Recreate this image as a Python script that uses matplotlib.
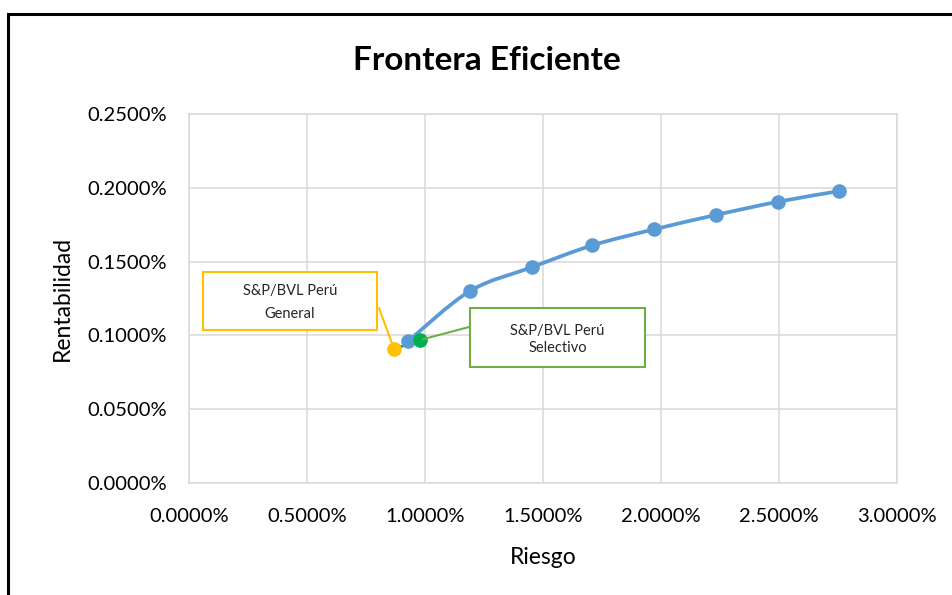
import matplotlib
matplotlib.use("Agg")
import matplotlib.pyplot as plt
from matplotlib.path import Path
from matplotlib.patches import PathPatch, Rectangle
from matplotlib.ticker import FuncFormatter, MultipleLocator

plt.rcParams['font.family'] = ['Lato', 'DejaVu Sans']

# frontera eficiente (riesgo, rentabilidad) en fracciones
riesgo = [0.00929, 0.01191, 0.01455, 0.01709, 0.01972, 0.02233, 0.02497, 0.02753]
rentabilidad = [0.000962, 0.001301, 0.001463, 0.001610, 0.001719, 0.001816, 0.001906, 0.001977]

# indices
general_riesgo, general_rent = 0.00869, 0.000908
selectivo_riesgo, selectivo_rent = 0.00979, 0.000969

azul = '#5B9BD5'
amarillo = '#FFC000'
verde = '#00B050'
verde_caja = '#70AD47'
gris = '#D9D9D9'

W, H = 952, 595


def fx(px):
    return px / W


def fy(py):
    return 1 - py / H


def curva_suave(xs, ys):
    # curva tipo excel: bezier cubica por cada tramo
    pts = list(zip(xs, ys))
    n = len(pts)
    verts = [pts[0]]
    codes = [Path.MOVETO]
    for i in range(n - 1):
        p0 = pts[i - 1] if i > 0 else pts[i]
        p1 = pts[i]
        p2 = pts[i + 1]
        p3 = pts[i + 2] if i + 2 < n else pts[i + 1]
        c1 = (p1[0] + (p2[0] - p0[0]) / 6, p1[1] + (p2[1] - p0[1]) / 6)
        c2 = (p2[0] - (p3[0] - p1[0]) / 6, p2[1] - (p3[1] - p1[1]) / 6)
        verts += [c1, c2, p2]
        codes += [Path.CURVE4] * 3
    return Path(verts, codes)


def caja(x0, y0, x1, y1, color, lineas, ys, punto, desde, shrink):
    # recuadro de etiqueta con su linea guia (coordenadas en pixeles)
    fig.patches.append(Rectangle((fx(x0), fy(y1)), fx(x1) - fx(x0), fy(y0) - fy(y1),
                                 transform=fig.transFigure, fc='white', ec=color,
                                 lw=1.5, zorder=7))
    for t, yy in zip(lineas, ys):
        fig.text(fx((x0 + x1) / 2), fy(yy), t, ha='center', va='center',
                 fontsize=10.5, color='#262626', zorder=8)
    ax.annotate('', xy=punto, xytext=(fx(desde[0]), fy(desde[1])),
                textcoords='figure fraction', zorder=6,
                arrowprops=dict(arrowstyle='-', color=color, lw=1.5,
                                shrinkA=0, shrinkB=shrink))


fig = plt.figure(figsize=(9.52, 5.95), dpi=100)
ax = fig.add_axes([fx(189), fy(483), fx(897) - fx(189), fy(114) - fy(483)])

ax.set_xlim(0, 0.03)
ax.set_ylim(0, 0.0025)
ax.xaxis.set_major_locator(MultipleLocator(0.005))
ax.yaxis.set_major_locator(MultipleLocator(0.0005))
fmt = FuncFormatter(lambda v, p: f"{v * 100:.4f}%")
ax.xaxis.set_major_formatter(fmt)
ax.yaxis.set_major_formatter(fmt)
ax.grid(True, color=gris, lw=1.1)
ax.set_axisbelow(True)
for s in ax.spines.values():
    s.set_color(gris)
    s.set_linewidth(1.1)
ax.tick_params(length=0, labelsize=14.5, colors='black')
ax.tick_params(axis='x', pad=18)
ax.tick_params(axis='y', pad=16)

# linea entre los indices
ax.plot([general_riesgo, selectivo_riesgo], [general_rent, selectivo_rent],
        color=verde, lw=2, zorder=3)

ax.add_patch(PathPatch(curva_suave(riesgo, rentabilidad), fill=False,
                       edgecolor=azul, lw=2.7, zorder=4, capstyle='round'))
ax.plot(riesgo, rentabilidad, 'o', color=azul, ms=9.5, zorder=5)

ax.plot([general_riesgo], [general_rent], 'o', color=amarillo, ms=9.5, zorder=6)
ax.plot([selectivo_riesgo], [selectivo_rent], 'o', color=verde, ms=9.5, zorder=6)

caja(203, 272, 377, 330, amarillo, ['S&P/BVL Perú', 'General'], [291.5, 313.5],
     (general_riesgo, general_rent), (379, 308), 5)
caja(470, 308, 645, 367, verde_caja, ['S&P/BVL Perú', 'Selectivo'], [330.5, 348.5],
     (selectivo_riesgo, selectivo_rent), (471, 326.5), 2)

ax.set_xlabel('Riesgo', fontsize=16.5, labelpad=16)
ax.set_ylabel('Rentabilidad', fontsize=16.5, labelpad=10)

fig.text(fx(487), fy(61), 'Frontera Eficiente', ha='center', va='center',
         fontsize=24, fontweight='bold')

# marco del grafico
fig.patches.append(Rectangle((fx(8), -0.1), 1.2, 1.1 - 14 / H,
                             transform=fig.transFigure, fill=False,
                             ec='black', lw=2.2))

fig.savefig('out.png', dpi=100)
